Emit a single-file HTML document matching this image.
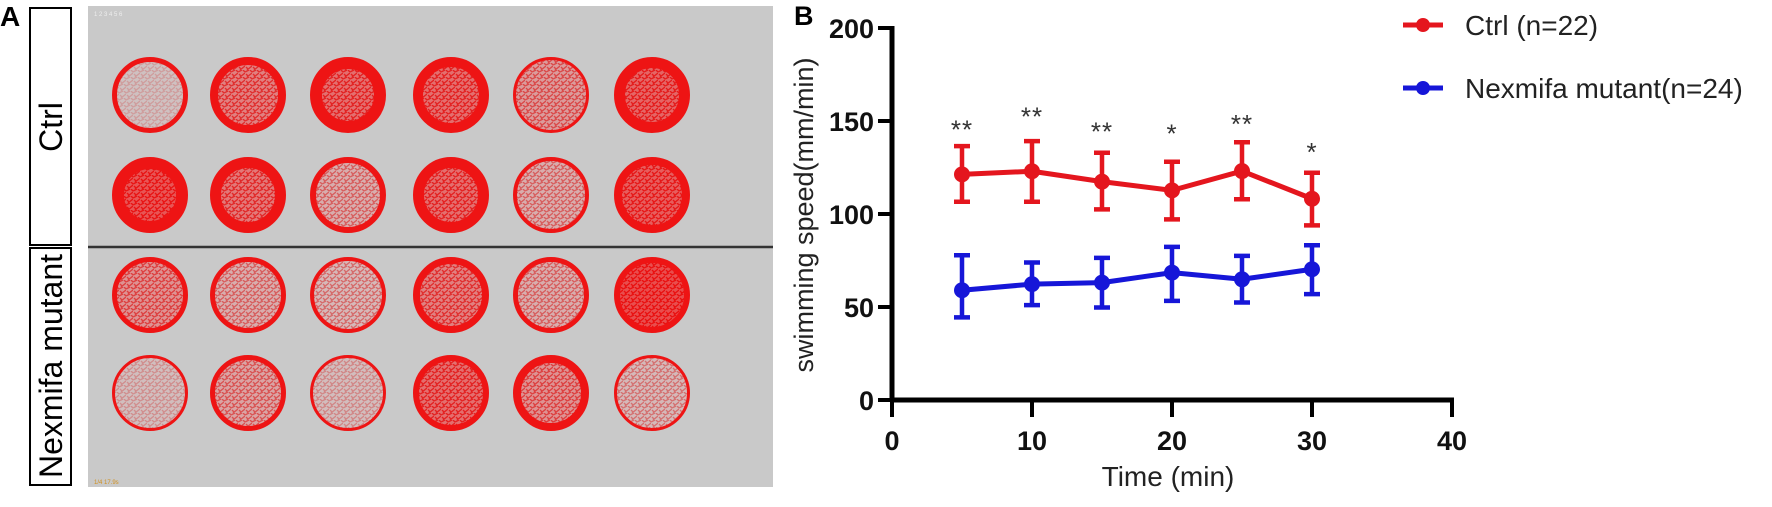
<!DOCTYPE html>
<html><head><meta charset="utf-8"><style>
html,body{margin:0;padding:0;background:#fff;}
body{width:1772px;height:507px;position:relative;overflow:hidden;font-family:"Liberation Sans",Arial,sans-serif;}
svg{position:absolute;left:0;top:0;}
</style></head><body>
<svg id="fig" width="1772" height="507" viewBox="0 0 1772 507">
<defs>
<pattern id="tex" width="7" height="7" patternUnits="userSpaceOnUse">
<rect width="7" height="7" fill="#e2a8a8"/>
<path d="M0 2 L4 0 M2 7 L7 3 M1 4 L3 6 M5 0 L7 2" stroke="#e01010" stroke-width="1.4"/>
</pattern>
</defs>
<g>
<text x="0" y="26" font-size="28" font-weight="bold" fill="#000">A</text>
<rect x="30" y="8" width="41" height="237" fill="#fff" stroke="#000" stroke-width="2"/>
<text transform="translate(62,127) rotate(-90)" text-anchor="middle" font-size="32" fill="#000">Ctrl</text>
<rect x="30" y="248" width="41" height="237" fill="#fff" stroke="#000" stroke-width="2"/>
<text transform="translate(62,366) rotate(-90)" text-anchor="middle" font-size="32" fill="#000">Nexmifa mutant</text>
<rect x="88" y="6" width="685" height="481" fill="#c9c9c9"/>
<line x1="88" y1="247" x2="773" y2="247" stroke="#333" stroke-width="2.5"/>
<text x="94" y="16" font-size="6" fill="#eee">1 2 3 4 5 6</text>
<text x="94" y="484" font-size="6" fill="#d09020">1/4 17.9s</text>
<g id="wells"></g>
</g>
<g>
<text x="794" y="25" font-size="27" font-weight="bold" fill="#000">B</text>
<g id="chart"></g>
</g>
</svg>
<script>
const wellDensity = [[0.05,0.7,0.8,0.8,0.55,0.85],[0.95,0.75,0.45,0.8,0.45,0.9],[0.6,0.45,0.4,0.7,0.45,1.0],[0.15,0.5,0.2,0.8,0.6,0.35]];
const wellRing = [[5,8,12,10,3,11],[12,11,6,11,4,8],[5,5,4,7,5,6],[3,5,3,6,8,3]];
const wellCx=[150,248,348,451,551,652], wellCy=[95,195,295,393];
const NS='http://www.w3.org/2000/svg';
const wg=document.getElementById('wells');
wellDensity.forEach((row,r)=>row.forEach((d,c)=>{
  const g=document.createElementNS(NS,'g');
  
  
  const inner=document.createElementNS(NS,'circle');
  inner.setAttribute('cx',wellCx[c]);inner.setAttribute('cy',wellCy[r]);inner.setAttribute('r',37);
  inner.setAttribute('fill','url(#tex)');inner.setAttribute('fill-opacity',d*0.8+0.2);
  g.appendChild(inner);
  const over=document.createElementNS(NS,'circle');
  over.setAttribute('cx',wellCx[c]);over.setAttribute('cy',wellCy[r]);over.setAttribute('r',37);
  over.setAttribute('fill','#ee1010');over.setAttribute('fill-opacity',Math.max(0,d-0.4)*1.0);
  g.appendChild(over);
  const ring=document.createElementNS(NS,'circle');
  ring.setAttribute('cx',wellCx[c]);ring.setAttribute('cy',wellCy[r]);ring.setAttribute('r',38-wellRing[r][c]/2);
  ring.setAttribute('fill','none');ring.setAttribute('stroke','#ee1414');ring.setAttribute('stroke-width',wellRing[r][c]);
  g.appendChild(ring);
  wg.appendChild(g);
}));
</script>
<script>
const times=[5,10,15,20,25,30];
const ctrlMean=[121.3,123,117.4,112.7,123.1,108.2];
const ctrlHi=[136.5,139.2,132.9,128.1,138.6,122.2];
const ctrlLo=[106.6,106.6,102.5,97.1,107.9,93.9];
const mutMean=[59,62.3,63.1,68.5,64.9,70.3];
const mutHi=[77.8,73.9,76.4,82.3,77.5,83.2];
const mutLo=[44.4,51,49.7,53.3,52.4,56.9];
const sigLabels=['**','**','**','*','**','*'];
const sigY=[148,155,147,146,151,136];
const xTicks=[0,10,20,30,40];
const yTicks=[0,50,100,150,200];
const X0=892,Y0=400;
const sx=v=>X0+v*14;
const sy=v=>Y0-v*1.86;
const cg=document.getElementById('chart');
function el(tag,attrs,parent){const e=document.createElementNS(NS,tag);for(const k in attrs)e.setAttribute(k,attrs[k]);(parent||cg).appendChild(e);return e;}
let a=el('line',{x1:X0,y1:sy(200)-2,x2:X0,y2:Y0+2,stroke:'#000','stroke-width':5});


a=el('line',{x1:X0-2,y1:Y0,x2:sx(40)+2,y2:Y0,stroke:'#000','stroke-width':5});


yTicks.forEach(v=>{
  const t=el('line',{x1:X0-14,y1:sy(v),x2:X0,y2:sy(v),stroke:'#000','stroke-width':4});
  
  
  const l=el('text',{x:X0-18,y:sy(v)+10,'text-anchor':'end','font-size':27,'font-weight':'bold',fill:'#111'});
  l.textContent=v;
  
  
});
xTicks.forEach(v=>{
  const t=el('line',{x1:sx(v),y1:Y0,x2:sx(v),y2:Y0+17,stroke:'#000','stroke-width':4});
  
  
  const l=el('text',{x:sx(v),y:Y0+50,'text-anchor':'middle','font-size':27,'font-weight':'bold',fill:'#111'});
  l.textContent=v;
  
  
});
let t=el('text',{x:sx(20)-4,y:486,'text-anchor':'middle','font-size':28,fill:'#222'});
t.textContent='Time (min)';


t=el('text',{transform:'translate(813,215) rotate(-90)','text-anchor':'middle','font-size':27,fill:'#222'});
t.textContent='swimming speed(mm/min)';


function series(mean,hi,lo,color,name){
  const g=el('g',{});
  
  
  el('polyline',{points:times.map((x,i)=>sx(x)+','+sy(mean[i])).join(' '),fill:'none',stroke:color,'stroke-width':5,'stroke-linejoin':'round'},g);
  times.forEach((x,i)=>{
    const eb=el('path',{d:`M${sx(x)} ${sy(hi[i])}V${sy(lo[i])}M${sx(x)-8} ${sy(hi[i])}H${sx(x)+8}M${sx(x)-8} ${sy(lo[i])}H${sx(x)+8}`,stroke:color,'stroke-width':4.5,fill:'none'},g);
    
    
    const p=el('circle',{cx:sx(x),cy:sy(mean[i]),r:8,fill:color},g);
    
    
  });
}
series(ctrlMean,ctrlHi,ctrlLo,'#e4161e','ctrl-series');
series(mutMean,mutHi,mutLo,'#1616d8','mutant-series');
times.forEach((x,i)=>{
  const s=el('text',{x:sx(x),y:sy(sigY[i])+14,'text-anchor':'middle','font-size':26,fill:'#333','letter-spacing':'1'});
  s.textContent=sigLabels[i];
  
  
});
const legend=[['Ctrl (n=22)','#e4161e',25],['Nexmifa mutant(n=24)','#1616d8',88]];
legend.forEach(([txt,col,y])=>{
  const g=el('g',{});
  
  
  el('line',{x1:1403,y1:y,x2:1443,y2:y,stroke:col,'stroke-width':5},g);
  el('circle',{cx:1423,cy:y,r:7,fill:col},g);
  const l=el('text',{x:1465,y:y+10,'font-size':28,fill:'#222'},g);
  l.textContent=txt;
});
</script>
</body></html>
